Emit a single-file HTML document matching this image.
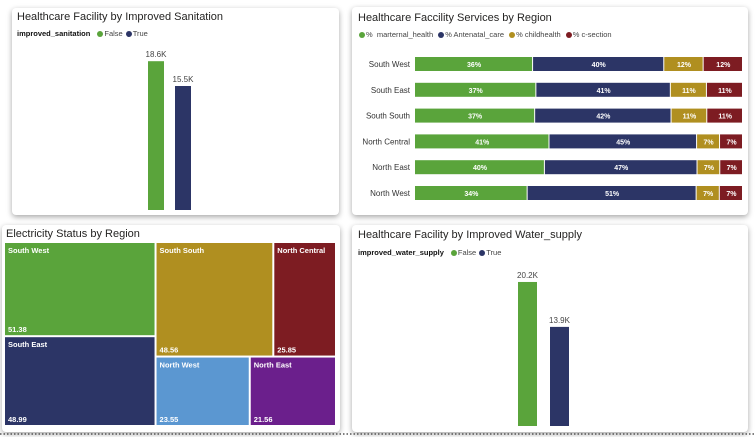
<!DOCTYPE html>
<html><head><meta charset="utf-8">
<style>
body{margin:0;width:756px;height:437px;background:#fff;position:relative;overflow:hidden;font-family:"Liberation Sans",sans-serif;}
.panel{position:absolute;background:#fff;border-radius:4px;box-shadow:0 2px 6px rgba(0,0,0,0.35);}
.title{position:absolute;font-size:11px;color:#252423;white-space:nowrap;}
.legend{position:absolute;font-size:7.5px;color:#444;white-space:nowrap;}
.legend b{color:#111;margin-right:4px;}
.dot{display:inline-block;width:6px;height:6px;border-radius:3px;margin:0 1px 0 3px;vertical-align:-1px;}
svg{position:absolute;left:0;top:0;}
</style></head><body>
<div class="panel" style="left:12px;top:8px;width:327px;height:207px;">
 <div class="title" style="left:5px;top:3px;">Healthcare Facility by Improved Sanitation</div>
 <div class="legend" style="left:5px;top:21px;"><b>improved_sanitation</b><span class="dot" style="background:#5aa43b"></span>False<span class="dot" style="background:#2c3566"></span>True</div>
</div>
<div class="panel" style="left:352px;top:7px;width:396px;height:208px;">
 <div class="title" style="left:6px;top:5px;">Healthcare Faccility Services by Region</div>
 <div class="legend" style="left:4px;top:23px;"><span class="dot" style="background:#5aa43b"></span>%&nbsp; marternal_health <span class="dot" style="background:#2c3566"></span>% Antenatal_care <span class="dot" style="background:#b08f20"></span>% childhealth <span class="dot" style="background:#7d1c22"></span>% c-section</div>
</div>
<div class="panel" style="left:2px;top:225px;width:338px;height:207px;">
 <div class="title" style="left:4px;top:3px;">Electricity Status by Region</div>
</div>
<div class="panel" style="left:352px;top:225px;width:396px;height:207px;">
 <div class="title" style="left:6px;top:4px;">Healthcare Facility by Improved Water_supply</div>
 <div class="legend" style="left:6px;top:23px;"><b>improved_water_supply</b><span class="dot" style="background:#5aa43b"></span>False<span class="dot" style="background:#2c3566"></span>True</div>
</div>
<svg id="chart" width="756" height="437"></svg>
<script>
const sanCats=["False","True"];
const sanVals=[18.6,15.5];
const sanLabels=["18.6K","15.5K"];
const waterCats=["False","True"];
const waterVals=[20.2,13.9];
const waterLabels=["20.2K","13.9K"];
const regions=["South West","South East","South South","North Central","North East","North West"];
const maternal=[36,37,37,41,40,34];
const antenatal=[40,41,42,45,47,51];
const childhealth=[12,11,11,7,7,7];
const csection=[12,11,11,7,7,7];
const treeRegions=["South West","South East","South South","North Central","North West","North East"];
const treeVals=[51.38,48.99,48.56,25.85,23.55,21.56];

const NS="http://www.w3.org/2000/svg";
const svg=document.getElementById('chart');
function mk(t,a){const e=document.createElementNS(NS,t);for(const k in a)e.setAttribute(k,a[k]);svg.appendChild(e);return e;}
function txt(x,y,s,size,fill,anchor,weight){const e=mk('text',{x:x,y:y,'font-size':size,fill:fill,'text-anchor':anchor||'start','font-family':'Liberation Sans, sans-serif','font-weight':weight||'normal'});e.textContent=s;return e;}
const colors=["#5aa43b","#2c3566","#b08f20","#7d1c22"];

function columns(cats,vals,labels,x0,w,gap,base,scale,prefix){
 cats.forEach((c,i)=>{
  const h=vals[i]*scale, x=x0+i*(w+gap);
  const r=mk('rect',{x:x,y:base-h,width:w,height:h,fill:colors[i]});
  
  
  const t=txt(x+w/2,base-h-4,labels[i],8,'#444','middle');
  
  
 });
}
columns(sanCats,sanVals,sanLabels,148,16,11,210,8.0,'sanitation');
columns(waterCats,waterVals,waterLabels,518,19,13,426,7.13,'water');

const series=[maternal,antenatal,childhealth,csection];
const bx=415,bw=328,rowY=57,rowStep=25.8,bh=14;
regions.forEach((r,i)=>{
 const y=rowY+i*rowStep;
 const l=txt(410,y+10,r,8,'#333','end');
 
 
 let tot=0;series.forEach(s=>tot+=s[i]);
 let x=bx;
 series.forEach((s,j)=>{
  const w=s[i]/tot*bw;
  const rc=mk('rect',{x:x,y:y,width:Math.max(w-1,0),height:bh,fill:colors[j]});
  
  
  const t=txt(x+w/2,y+10,s[i]+'%',7,'#fff','middle','bold');
  
  
  x+=w;
 });
});

const tx=5,ty=243,tw=332,th=184;
const tcol=["#5aa43b","#2c3566","#b08f20","#7d1c22","#5b97d1","#6b1f8c"];
const total=treeVals.reduce((a,b)=>a+b,0);
function tile(i,x,y,w,h){
 const r=mk('rect',{x:x,y:y,width:w-2,height:h-2,fill:tcol[i]});
 
 
 const a=txt(x+3,y+10,treeRegions[i],7.5,'#fff','start','bold');
 
 
 const b=txt(x+3,y+h-5,treeVals[i].toFixed(2),7.5,'#fff','start','bold');
 
 
}
const c1=treeVals[0]+treeVals[1];
const w1=c1/total*tw;
const h0=treeVals[0]/c1*th;
tile(0,tx,ty,w1,h0);
tile(1,tx,ty+h0,w1,th-h0);
const restW=tw-w1, restSum=total-c1;
const topSum=treeVals[2]+treeVals[3];
const hTop=topSum/restSum*th;
const w2=treeVals[2]/topSum*restW;
tile(2,tx+w1,ty,w2,hTop);
tile(3,tx+w1+w2,ty,restW-w2,hTop);
const botSum=treeVals[4]+treeVals[5];
const w4=treeVals[4]/botSum*restW;
tile(4,tx+w1,ty+hTop,w4,th-hTop);
tile(5,tx+w1+w4,ty+hTop,restW-w4,th-hTop);

const dl=mk('line',{x1:0,y1:434,x2:756,y2:434,stroke:'#555','stroke-width':1.5,'stroke-dasharray':'1.5 2'});


</script>
</body></html>
